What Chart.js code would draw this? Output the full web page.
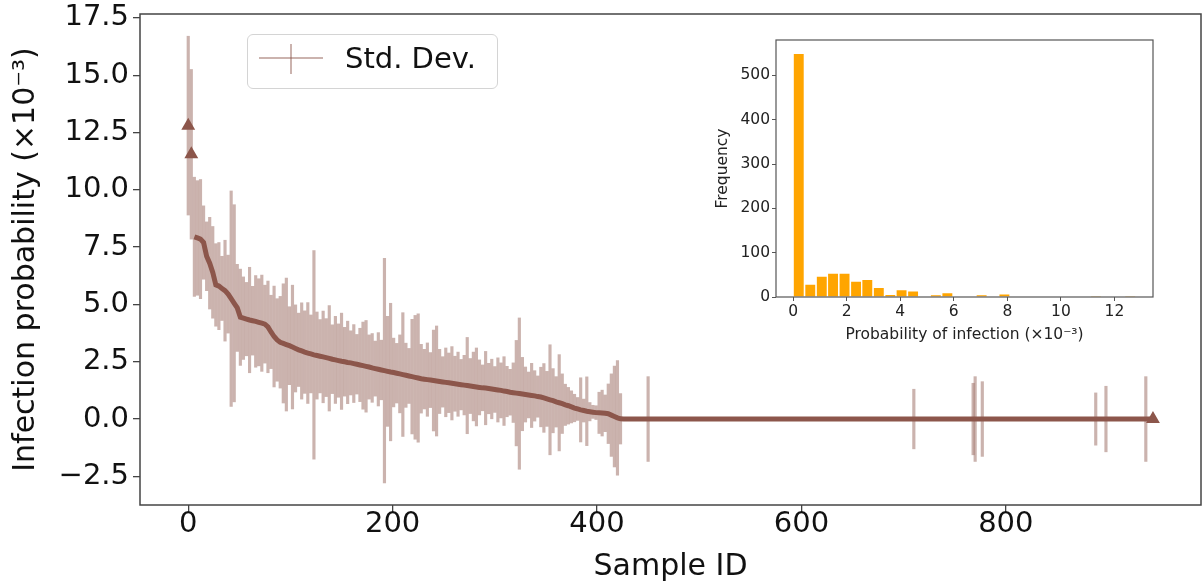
<!DOCTYPE html>
<html>
<head>
<meta charset="utf-8">
<script src="https://cdn.jsdelivr.net/npm/chart.js@4.4.1/dist/chart.umd.min.js"></script>
<style>
  html, body { margin: 0; padding: 0; background: #fff; }
  #wrap { position: relative; width: 1202px; height: 585px; font-family: "DejaVu Sans", sans-serif; }
  #mainChart { position: absolute; left: 0; top: 0; }
  #insetChart { position: absolute; left: 712px; top: 30px; }
  #legend {
    position: absolute; left: 247px; top: 34px; width: 249px; height: 53px;
    border: 1px solid #d4d4d4; border-radius: 6px; background: rgba(255,255,255,0.8);
  }
  #legend .hline { position: absolute; left: 11px; top: 22px; width: 64px; height: 2px; background: rgba(140,86,75,0.45); }
  #legend .vline { position: absolute; left: 42px; top: 9px; width: 2px; height: 30px; background: rgba(140,86,75,0.45); }
  #legend .label { position: absolute; left: 97px; top: 6px; font-size: 29px; color: #111; white-space: nowrap; }
</style>
</head>
<body>
<div id="wrap">
  <canvas id="mainChart" width="1202" height="585"></canvas>
  <canvas id="insetChart" width="450" height="320"></canvas>
  <div id="legend"><span class="hline"></span><span class="vline"></span><span class="label">Std. Dev.</span></div>
</div>
<script>
const FONT = 'DejaVu Sans'
const LINE = '#8c564b'
const ERR = 'rgba(140,86,75,0.45)'

// main plot: sample id, mean infection probability and std (x10^-3)
const sampleIds = [
  0, 3, 6, 9, 12, 15, 18, 21, 24, 27,
  30, 33, 36, 39, 42, 45, 48, 51, 54, 57,
  60, 63, 66, 69, 72, 75, 78, 81, 84, 87,
  90, 93, 96, 99, 102, 105, 108, 111, 114, 117,
  120, 123, 126, 129, 132, 135, 138, 141, 144, 147,
  150, 153, 156, 159, 162, 165, 168, 171, 174, 177,
  180, 183, 186, 189, 192, 195, 198, 201, 204, 207,
  210, 213, 216, 219, 222, 225, 228, 231, 234, 237,
  240, 243, 246, 249, 252, 255, 258, 261, 264, 267,
  270, 273, 276, 279, 282, 285, 288, 291, 294, 297,
  300, 303, 306, 309, 312, 315, 318, 321, 324, 327,
  330, 333, 336, 339, 342, 345, 348, 351, 354, 357,
  360, 363, 366, 369, 372, 375, 378, 381, 384, 387,
  390, 393, 396, 399, 402, 405, 408, 411, 414, 417,
  420, 423,
  426, 450, 710, 768, 770, 777, 888, 898, 937, 944
]

const meanValues = [
  12.8, 11.55, 7.95, 7.9, 7.85, 7.7, 7.1, 6.8, 6.4, 5.85,
  5.8, 5.7, 5.6, 5.45, 5.25, 5.05, 4.85, 4.44, 4.4, 4.36,
  4.32, 4.29, 4.26, 4.22, 4.18, 4.14, 4.02, 3.8, 3.6, 3.45,
  3.35, 3.3, 3.25, 3.2, 3.14, 3.08, 3.02, 2.97, 2.92, 2.88,
  2.84, 2.8, 2.77, 2.74, 2.71, 2.68, 2.65, 2.61, 2.58, 2.55,
  2.52, 2.5, 2.47, 2.45, 2.42, 2.39, 2.36, 2.33, 2.3, 2.27,
  2.23, 2.2, 2.17, 2.14, 2.11, 2.08, 2.05, 2.03, 2.0, 1.97,
  1.94, 1.91, 1.88, 1.85, 1.82, 1.79, 1.76, 1.74, 1.72, 1.7,
  1.68, 1.66, 1.64, 1.62, 1.6, 1.58, 1.56, 1.54, 1.52, 1.5,
  1.48, 1.46, 1.44, 1.42, 1.4, 1.38, 1.36, 1.35, 1.33, 1.31,
  1.29, 1.27, 1.25, 1.22, 1.2, 1.17, 1.15, 1.13, 1.11, 1.09,
  1.07, 1.05, 1.03, 1.01, 0.98, 0.96, 0.92, 0.88, 0.84, 0.8,
  0.75, 0.71, 0.67, 0.62, 0.58, 0.53, 0.48, 0.44, 0.4, 0.37,
  0.34, 0.32, 0.3, 0.28, 0.27, 0.26, 0.25, 0.23, 0.17, 0.11,
  0.05, 0.01,
  0, 0, 0, 0, 0, 0, 0, 0, 0, 0
]

const stdValues = [
  3.9, 3.7, 2.6, 2.5, 2.6, 1.6, 1.5, 2.0, 2.0, 1.8,
  1.9, 1.4, 2.2, 1.7, 4.7, 4.3, 1.9, 2.1, 1.8, 1.6,
  2.3, 1.5, 2.0, 1.9, 2.1, 1.7, 2.0, 1.6, 2.2, 1.8,
  2.0, 2.6, 2.9, 1.7, 2.7, 1.9, 1.6, 2.1, 1.8, 2.2,
  1.7, 4.55, 1.9, 1.6, 2.0, 1.7, 2.3, 1.5, 1.9, 1.6,
  2.1, 1.5, 1.8, 1.4, 1.7, 1.3, 1.6, 1.9, 2.0, 1.4,
  1.5, 1.2, 1.6, 1.3, 4.9, 2.4, 3.0, 1.5, 1.3, 1.7,
  2.7, 1.4, 1.2, 2.5, 2.7, 2.8, 1.5, 1.3, 1.6, 1.2,
  2.2, 2.4, 1.4, 1.1, 1.5, 1.3, 1.6, 1.2, 1.4, 1.1,
  1.3, 2.1, 1.2, 1.5, 1.7, 1.2, 1.0, 1.6, 1.1, 1.3,
  1.0, 1.4, 1.2, 1.5, 1.1, 1.0, 1.3, 2.3, 3.3, 1.6,
  1.2, 1.0, 1.4, 1.1, 0.9, 1.3, 1.5, 1.2, 2.4, 1.4,
  1.1, 2.1, 1.3, 0.9, 0.8, 0.7, 0.6, 0.5, 1.4, 0.5,
  1.5, 0.4, 0.3, 0.3, 0.9, 1.0, 0.8, 1.3, 1.8, 2.2,
  2.5, 1.1,
  0, 1.85, 1.3, 1.56, 1.85, 1.63, 1.14, 1.43, 1.85, 0
]

const xTicks = [0, 200, 400, 600, 800]
const yTicks = [-2.5, 0, 2.5, 5, 7.5, 10, 12.5, 15, 17.5]

// inset histogram: bin centres and counts
const histCenters = [
  0.21, 0.64, 1.07, 1.49, 1.92, 2.35, 2.77, 3.2, 3.63, 4.05,
  4.48, 4.91, 5.33, 5.76, 6.19, 6.61, 7.04, 7.47, 7.89, 8.32,
  8.75, 9.17, 9.6, 10.03, 10.45, 10.88, 11.31, 11.73, 12.16, 12.59
]
const histCounts = [
  550, 29, 47, 54, 54, 36, 40, 22, 6, 17,
  14, 0, 5, 10, 0, 0, 5, 0, 7, 0,
  0, 0, 0, 0, 0, 0, 1, 0, 0, 1
]
const histXTicks = [0, 2, 4, 6, 8, 10, 12]
const histYTicks = [0, 100, 200, 300, 400, 500]


const framePlugin = (color, width) => ({
  id: 'frame',
  afterDraw(chart) {
    const { ctx, chartArea: a } = chart
    ctx.save()
    ctx.strokeStyle = color
    ctx.lineWidth = width
    ctx.strokeRect(a.left, a.top, a.right - a.left, a.bottom - a.top)
    ctx.restore()
  }
})

// keep the plot box where it is, no extra room for end labels
const noPad = s => { s.paddingLeft = 0; s.paddingRight = 0; s.paddingTop = 0; s.paddingBottom = 0 }

const meanData = sampleIds.map((id, i) => ({ x: id, y: meanValues[i] }))
const errData = sampleIds
  .map((id, i) => ({ x: id, y: [meanValues[i] - stdValues[i], meanValues[i] + stdValues[i]] }))
  .filter((d, i) => stdValues[i] > 0)

const fmt = v => (v < 0 ? '\u2212' + Math.abs(v).toFixed(1) : v.toFixed(1))

new Chart(document.getElementById('mainChart'), {
  type: 'bar',
  data: {
    datasets: [
      {
        type: 'line',
        label: 'Mean',
        data: meanData,
        borderColor: LINE,
        backgroundColor: LINE,
        borderWidth: 5,
        tension: 0,
        pointStyle: 'triangle',
        pointRadius: c => (c.dataIndex < 2 || c.dataIndex === meanData.length - 1) ? 3 : 0,
        segment: { borderColor: c => (c.p0DataIndex < 2 ? 'rgba(0,0,0,0)' : LINE) },
        order: 0
      },
      {
        type: 'bar',
        label: 'Std. Dev.',
        data: errData,
        backgroundColor: ERR,
        barThickness: 2.5,
        order: 1
      }
    ]
  },
  options: {
    responsive: false,
    animation: false,
    layout: { autoPadding: false, padding: { top: 14, right: 1, left: 0, bottom: 0 } },
    plugins: { legend: { display: false }, tooltip: { enabled: false } },
    scales: {
      x: {
        type: 'linear', min: -47.2, max: 991, offset: false,
        grid: { offset: false, drawOnChartArea: false, drawTicks: true, tickLength: 7, color: '#444', lineWidth: 1.3 },
        border: { display: false },
        ticks: { font: { family: FONT, size: 29 }, color: '#111', padding: -5, maxRotation: 0, autoSkip: false },
        afterBuildTicks: s => { s.ticks = xTicks.map(v => ({ value: v })) },
        afterFit: s => { s.height = 80; noPad(s) },
        title: { display: true, text: 'Sample ID', color: '#111', font: { family: FONT, size: 30 }, padding: { top: 0, bottom: 0 } }
      },
      y: {
        type: 'linear', min: -3.75, max: 17.67,
        grid: { offset: false, drawOnChartArea: false, drawTicks: true, tickLength: 7, color: '#444', lineWidth: 1.3 },
        border: { display: false },
        ticks: { font: { family: FONT, size: 29 }, color: '#111', padding: 4, callback: v => fmt(v) },
        afterBuildTicks: s => { s.ticks = yTicks.map(v => ({ value: v })) },
        afterFit: s => { s.width = 140; noPad(s) },
        title: { display: true, text: 'Infection probability (\u00d710\u207b\u00b3)', color: '#111', font: { family: FONT, size: 30 }, padding: { top: 8, bottom: 0 } }
      }
    }
  },
  plugins: [framePlugin('#444', 1.5)]
})

new Chart(document.getElementById('insetChart'), {
  type: 'bar',
  data: {
    datasets: [{
      label: 'Frequency',
      data: histCenters.map((c, i) => ({ x: c, y: histCounts[i] })),
      backgroundColor: '#ffa500',
      borderColor: '#ffffff',
      borderWidth: 1,
      barPercentage: 1,
      categoryPercentage: 1
    }]
  },
  options: {
    responsive: false,
    animation: false,
    layout: { autoPadding: false, padding: { top: 10, right: 9, left: 0, bottom: 0 } },
    plugins: { legend: { display: false }, tooltip: { enabled: false } },
    scales: {
      x: {
        type: 'linear', min: -0.64, max: 13.44, offset: false,
        grid: { offset: false, drawOnChartArea: false, drawTicks: true, tickLength: 4, color: '#555', lineWidth: 1 },
        border: { display: false },
        ticks: { font: { family: FONT, size: 15.5 }, color: '#222', padding: 2, maxRotation: 0, autoSkip: false },
        afterBuildTicks: s => { s.ticks = histXTicks.map(v => ({ value: v })) },
        afterFit: s => { s.height = 53; noPad(s) },
        title: { display: true, text: 'Probability of infection (\u00d710\u207b\u00b3)', color: '#222', font: { family: FONT, size: 15.5 }, padding: { top: 0, bottom: 6 } }
      },
      y: {
        type: 'linear', min: 0, max: 580,
        grid: { offset: false, drawOnChartArea: false, drawTicks: true, tickLength: 4, color: '#555', lineWidth: 1 },
        border: { display: false },
        ticks: { font: { family: FONT, size: 15.5 }, color: '#222', padding: 2 },
        afterBuildTicks: s => { s.ticks = histYTicks.map(v => ({ value: v })) },
        afterFit: s => { s.width = 64; noPad(s) },
        title: { display: true, text: 'Frequency', color: '#222', font: { family: FONT, size: 15.5 }, padding: { top: 2, bottom: 0 } }
      }
    }
  },
  plugins: [framePlugin('#555', 1.2)]
})
</script>
</body>
</html>
